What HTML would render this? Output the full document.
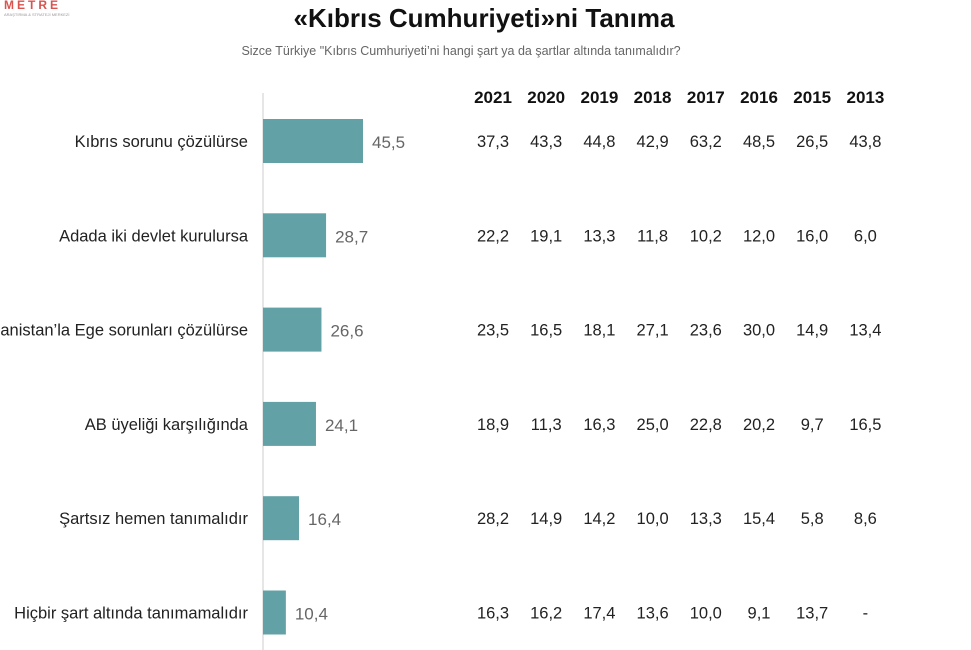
<!DOCTYPE html>
<html><head><meta charset="utf-8"><style>
html,body{margin:0;padding:0;background:#fff;width:971px;height:650px;overflow:hidden;font-family:"Liberation Sans",sans-serif}
</style></head><body>
<svg id="chart" width="971" height="650" viewBox="0 0 971 650" xmlns="http://www.w3.org/2000/svg">
<text x="4" y="9" font-size="12" fill="#d9534f" font-weight="bold" letter-spacing="3">METRE</text>
<text x="4" y="16" font-size="4" fill="#999">ARAŞTIRMA &amp; STRATEJİ MERKEZİ</text>
<text x="484" y="27" text-anchor="middle" font-size="26" font-weight="bold" fill="#111">«Kıbrıs Cumhuriyeti»ni Tanıma</text>
<text x="461" y="55" text-anchor="middle" font-size="12.5" fill="#666">Sizce Türkiye "Kıbrıs Cumhuriyeti’ni hangi şart ya da şartlar altında tanımalıdır?</text>
<line x1="263" y1="93" x2="263" y2="650" stroke="#ccc" stroke-width="1"/>
<g id="bars"></g>
<g id="table"></g>
</svg>
<script>
const categories=["Kıbrıs sorunu çözülürse","Adada iki devlet kurulursa","Yunanistan’la Ege sorunları çözülürse","AB üyeliği karşılığında","Şartsız hemen tanımalıdır","Hiçbir şart altında tanımamalıdır"];
const values2022=[45.5,28.7,26.6,24.1,16.4,10.4];
const years=["2021","2020","2019","2018","2017","2016","2015","2013"];
const history=[
["37,3","43,3","44,8","42,9","63,2","48,5","26,5","43,8"],
["22,2","19,1","13,3","11,8","10,2","12,0","16,0","6,0"],
["23,5","16,5","18,1","27,1","23,6","30,0","14,9","13,4"],
["18,9","11,3","16,3","25,0","22,8","20,2","9,7","16,5"],
["28,2","14,9","14,2","10,0","13,3","15,4","5,8","8,6"],
["16,3","16,2","17,4","13,6","10,0","9,1","13,7","-"]];
const NS="http://www.w3.org/2000/svg";
const x0=263, pxPerUnit=100/45.5;
const xScale=v=>x0+v*pxPerUnit;
const yRow=i=>141+i*94.3;
const colX=j=>493+j*53.2;
function mk(tag,attrs,txt){const e=document.createElementNS(NS,tag);for(const k in attrs)e.setAttribute(k,attrs[k]);if(txt!==undefined)e.textContent=txt;return e;}
const bars=document.getElementById('bars'), table=document.getElementById('table');
categories.forEach((c,i)=>{
  const y=yRow(i);
  const lab=mk('text',{x:248,y:y+6,'text-anchor':'end','font-size':16.5,fill:'#222'},c);
  
  
  bars.appendChild(lab);
  const r=mk('rect',{x:x0,y:y-22,width:xScale(values2022[i])-x0,height:44,fill:'#62a1a6'});
  
  
  bars.appendChild(r);
  const v=mk('text',{x:xScale(values2022[i])+9,y:y+7,'font-size':17,fill:'#666'},values2022[i].toFixed(1).replace('.',','));
  
  
  bars.appendChild(v);
  history[i].forEach((h,j)=>{
    const t=mk('text',{x:colX(j),y:y+6,'text-anchor':'middle','font-size':16.5,fill:'#222'},h);
    
    
    table.appendChild(t);
  });
});
years.forEach((yv,j)=>{
  const t=mk('text',{x:colX(j),y:103,'text-anchor':'middle','font-size':17,'font-weight':'bold',fill:'#111'},yv);
  
  
  table.appendChild(t);
});
</script>
</body></html>
